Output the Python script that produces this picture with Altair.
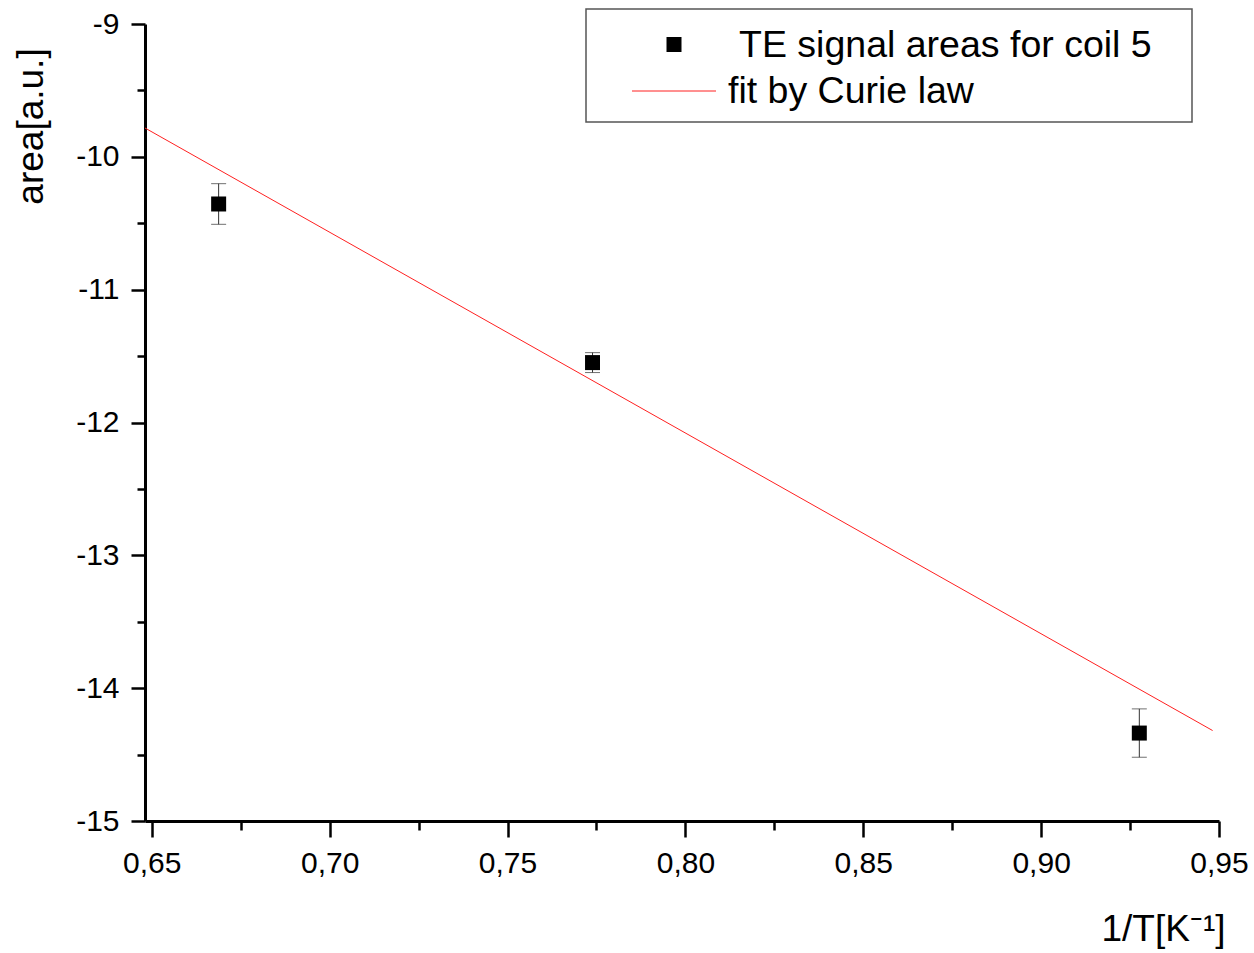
import altair as alt
import pandas as pd

# ---- data ----
x_vals = [0.6688, 0.7739, 0.9276]
y_vals = [-10.355, -11.549, -14.338]
y_err = [0.153, 0.075, 0.182]
fit_x = [0.6481, 0.9482]
fit_y = [-9.783, -14.319]
x_major = [0.65, 0.70, 0.75, 0.80, 0.85, 0.90, 0.95]
x_minor = [0.675, 0.725, 0.775, 0.825, 0.875, 0.925]
y_major = [-15, -14, -13, -12, -11, -10, -9]
y_minor = [-14.5, -13.5, -12.5, -11.5, -10.5, -9.5]
legend_labels = ["TE signal areas for coil 5", "fit by Curie law"]
x_title = "1/T[K⁻¹]"
y_title = "area[a.u.]"

pts = pd.DataFrame({
    "x": x_vals,
    "y": y_vals,
    "lo": [v - e for v, e in zip(y_vals, y_err)],
    "hi": [v + e for v, e in zip(y_vals, y_err)],
})
fit = pd.DataFrame({"x": fit_x, "y": fit_y})
one = pd.DataFrame({"k": [1]})

FONT = "Liberation Sans"
xscale = alt.Scale(domain=[0.6481, 0.95], nice=False, zero=False)
yscale = alt.Scale(domain=[-15, -9], nice=False, zero=False)

common = dict(grid=False, domainColor="black", tickColor="black",
              labelColor="black", titleColor="black",
              labelFont=FONT, titleFont=FONT)

x_axis_major = alt.Axis(
    orient="bottom", values=x_major, tickSize=16, tickWidth=2.5, domainWidth=3,
    labelFontSize=30, labelPadding=11, labelFlush=False, labelOverlap=False,
    labelExpr="replace(format(datum.value, '.2f'), '.', ',')",
    title=x_title, titleFontSize=37, titleFontWeight="normal",
    titleX=1080, titleY=119, titleAlign="right", titleBaseline="alphabetic",
    **common)
y_axis_major = alt.Axis(
    orient="left", values=y_major, tickSize=14, tickWidth=2.5, domainWidth=3,
    labelFontSize=30, labelPadding=12, labelFlush=False, labelOverlap=False,
    labelExpr="'' + datum.value",
    title=y_title, titleFontSize=37, titleFontWeight="normal", titleAngle=270,
    titleX=-103, titleY=102, titleAlign="center", titleBaseline="alphabetic",
    **common)
x_axis_minor = alt.Axis(orient="bottom", values=x_minor, tickSize=9, tickWidth=2.5,
                        domain=False, labels=False, title=None, grid=False, tickColor="black")
y_axis_minor = alt.Axis(orient="left", values=y_minor, tickSize=8, tickWidth=2.5,
                        domain=False, labels=False, title=None, grid=False, tickColor="black")

fit_line = alt.Chart(fit).mark_line(color="#ff2020", strokeWidth=1).encode(
    x=alt.X("x:Q", scale=xscale, axis=None),
    y=alt.Y("y:Q", scale=yscale, axis=None),
)

err_rule = alt.Chart(pts).mark_rule(color="#333333", strokeWidth=1).encode(
    x=alt.X("x:Q", scale=xscale, axis=x_axis_minor),
    y=alt.Y("lo:Q", scale=yscale, axis=y_axis_minor),
    y2="hi:Q",
)
cap_lo = alt.Chart(pts).mark_tick(orient="horizontal", size=15, thickness=1, color="#333333").encode(
    x=alt.X("x:Q", scale=xscale, axis=None),
    y=alt.Y("lo:Q", scale=yscale, axis=None),
)
cap_hi = alt.Chart(pts).mark_tick(orient="horizontal", size=15, thickness=1, color="#333333").encode(
    x=alt.X("x:Q", scale=xscale, axis=None),
    y=alt.Y("hi:Q", scale=yscale, axis=None),
)
points = alt.Chart(pts).mark_square(size=225, color="black", opacity=1).encode(
    x=alt.X("x:Q", scale=xscale, axis=x_axis_major),
    y=alt.Y("y:Q", scale=yscale, axis=y_axis_major),
)

# ---- legend box ----
leg_box = alt.Chart(one).mark_rect(fill="white", stroke="#555555", strokeWidth=1.5).encode(
    x=alt.value(441), x2=alt.value(1047), y=alt.value(-15), y2=alt.value(98))
leg_sq = alt.Chart(one).mark_square(size=225, color="black", opacity=1).encode(
    x=alt.value(529), y=alt.value(20.5))
leg_line = alt.Chart(one).mark_rule(color="#ff2020", strokeWidth=1).encode(
    x=alt.value(487), x2=alt.value(571), y=alt.value(67))
leg_t1 = alt.Chart(one).mark_text(font=FONT, fontSize=37.5, align="left",
                                  baseline="alphabetic", color="black").encode(
    x=alt.value(594), y=alt.value(33.3), text=alt.value(legend_labels[0]))
leg_t2 = alt.Chart(one).mark_text(font=FONT, fontSize=37.5, align="left",
                                  baseline="alphabetic", color="black").encode(
    x=alt.value(583), y=alt.value(79), text=alt.value(legend_labels[1]))

chart = alt.layer(
    fit_line, err_rule, cap_lo, cap_hi, points,
    leg_box, leg_sq, leg_line, leg_t1, leg_t2,
).resolve_axis(x="independent", y="independent").properties(
    width=1074, height=797,
    padding={"left": 145, "top": 24, "right": 35, "bottom": 132},
    autosize=alt.AutoSizeParams(type="none"),
    background="white",
).configure_view(stroke=None)

chart.save("out.html", embed_options={"renderer": "svg", "actions": False})
